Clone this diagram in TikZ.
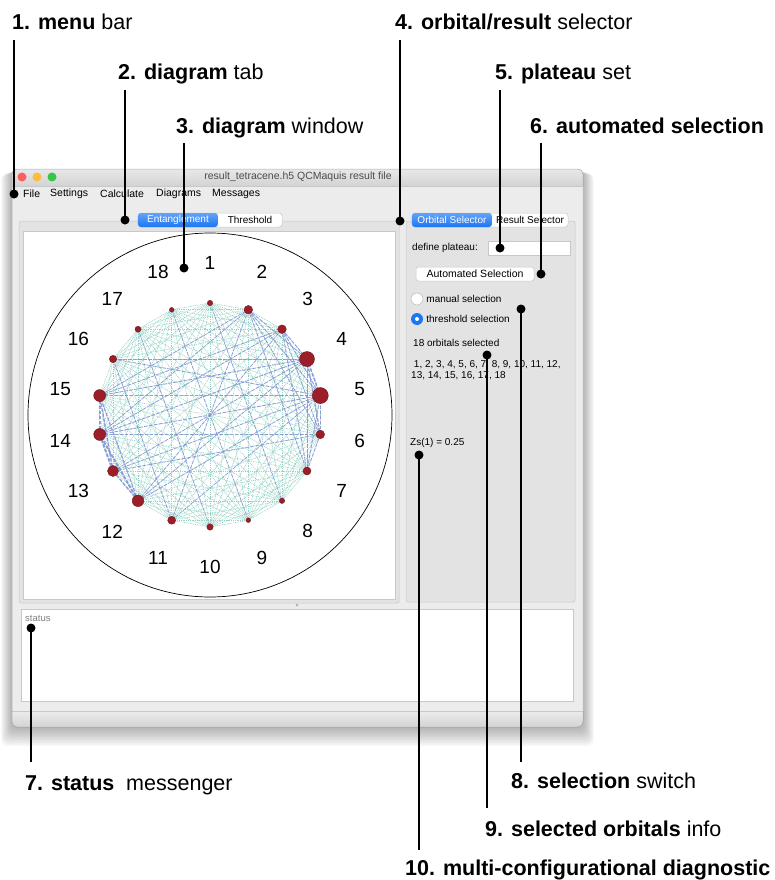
\documentclass[tikz,border=0pt]{standalone}
\usepackage{fontspec}
\setmainfont{Liberation Sans}
\usetikzlibrary{positioning, backgrounds}

\definecolor{winbg}{RGB}{236,236,236}
\definecolor{panelbg}{RGB}{227,227,227}
\definecolor{frame}{RGB}{200,200,200}
\definecolor{titletop}{RGB}{232,232,232}
\definecolor{titlebot}{RGB}{211,211,211}
\definecolor{tabtop}{RGB}{98,163,250}
\definecolor{tabbot}{RGB}{30,118,240}
\definecolor{orbred}{RGB}{155,30,40}
\definecolor{entgreen}{RGB}{150,210,198}
\definecolor{entblue}{RGB}{132,144,216}
\definecolor{btnred}{RGB}{252,96,92}
\definecolor{btnyel}{RGB}{253,188,64}
\definecolor{btngrn}{RGB}{52,200,74}

\begin{document}
\begin{tikzpicture}[x=1pt, y=-1pt,
    lbl/.style={anchor=base west, inner sep=0, font=\fontsize{21.5}{24}\selectfont},
    pin/.style={circle, fill=black, inner sep=0, minimum size=9pt},
    callout/.style={line width=2.6pt},
    ui/.style={anchor=west, inner sep=0, font=\fontsize{10.5}{12}\selectfont},
    small/.style={ui, font=\fontsize{10}{12}\selectfont},
    tabon/.style={rectangle, rounded corners=3pt, top color=tabtop, bottom color=tabbot,
                  text=white, inner sep=0, minimum height=14pt, font=\fontsize{10}{12}\selectfont},
    taboff/.style={rectangle, rounded corners=3pt, fill=white, draw=frame, line width=0.5pt,
                   inner sep=0, minimum height=14pt, font=\fontsize{10}{12}\selectfont},
    btn/.style={rectangle, rounded corners=2.5pt, fill=white, draw=frame, line width=0.5pt,
                inner sep=0, minimum height=14pt, font=\fontsize{10.5}{12}\selectfont},
    light/.style={circle, inner sep=0, minimum size=9pt},
    orb/.style={circle, fill=orbred, draw=orbred!75!black, line width=0.4pt, inner sep=0},
    num/.style={inner sep=0, font=\fontsize{19}{20}\selectfont},
    ent/.style={entgreen, line width=0.6pt, dash pattern=on 1pt off 0.8pt},
    link/.style={entblue, opacity=0.85, dash pattern=on 3.5pt off 1.5pt},
  ]
  \useasboundingbox (0,0) rectangle (775,880);

  % window
  \begin{scope}[on background layer]
    \foreach \s in {1,...,12}
      \fill[black, opacity=0.028, rounded corners=6pt]
        ({12-\s*0.9},{170+\s*0.3}) rectangle ({583+\s*0.9},{727+\s*1.6});
    \fill[winbg, rounded corners=5pt] (12,169) rectangle (583,727);
    \fill[top color=titletop, bottom color=titlebot]
      (12,186) {[rounded corners=5pt] -- (12,169) -- (583,169)} -- (583,186) -- cycle;
    \draw[frame, line width=0.5pt] (12,186) -- (583,186);
    \fill[top color=winbg, bottom color=titlebot]
      (12,711) -- (583,711) {[rounded corners=5pt] -- (583,727) -- (12,727)} -- cycle;
    \draw[frame, line width=0.5pt] (12,711) -- (583,711);
    \draw[gray!60, line width=0.5pt, rounded corners=5pt] (12,169) rectangle (583,727);
    % left group and diagram area
    \draw[frame, fill=panelbg, line width=0.5pt, rounded corners=2pt] (19,221) rectangle (399,603);
    \draw[frame, fill=white, line width=0.5pt] (23,231) rectangle (395,599);
    % right panel
    \draw[frame, fill=panelbg, line width=0.5pt, rounded corners=2pt] (406,221) rectangle (575,602);
    % status box
    \draw[frame, fill=white, line width=0.5pt] (21,609) rectangle (573,701);
  \end{scope}

  \node[light, fill=btnred] (win-close) at (22,177) {};
  \node[light, fill=btnyel] (win-min)   at (37,177) {};
  \node[light, fill=btngrn] (win-max)   at (52,177) {};
  \node[inner sep=0, text=black!70, font=\fontsize{10.5}{12}\selectfont] (win-title) at (298,177)
    {result\_tetracene.h5 QCMaquis result file};

  \node[ui] (mnu-file) at (23,194)  {File};
  \node[ui] (mnu-set)  at (50,194)  {Settings};
  \node[ui] (mnu-calc) at (100,194) {Calculate};
  \node[ui] (mnu-diag) at (156,194) {Diagrams};
  \node[ui] (mnu-msg)  at (212,194) {Messages};

  % diagram tabs
  \node[taboff, minimum width=144pt] (tabs-l) at (210,220) {};
  \node[tabon, minimum width=80pt, anchor=west] (tab-ent) at (tabs-l.west) {Entanglement};
  \node[inner sep=0, font=\fontsize{10}{12}\selectfont] (tab-thr) at (250,220) {Threshold};

  % entanglement diagram
  \node[circle, draw, line width=0.7pt, minimum size=364pt, inner sep=0] (ring) at (210,415) {};
  \foreach \k/\r in {1/2.7, 2/4.3, 3/4.3, 4/7.5, 5/8, 6/4.3, 7/4, 8/2.7, 9/2.3,
                     10/3.2, 11/4, 12/5.8, 13/5.5, 14/6, 15/6, 16/3.7, 17/3, 18/2.3}{
    \pgfmathsetmacro{\ang}{90-20*(\k-1)}
    \node[orb, minimum size=2*\r] (o\k) at ({210+112*cos(\ang)},{415-112*sin(\ang)}) {};
    \node[num] (n\k) at ({210+152*cos(\ang)},{415-152*sin(\ang)}) {\k};
  }
  \begin{scope}[on background layer]
    \foreach \i in {1,...,17}{
      \pgfmathtruncatemacro{\nxt}{\i+1}
      \foreach \j in {\nxt,...,18}
        \draw[ent] (o\i.center) -- (o\j.center);
    }
    \foreach \a/\b/\w in {4/5/1.6, 4/6/1.2, 5/6/1.4, 12/13/1.4, 13/14/2, 14/15/1.8,
                          12/14/2, 13/15/1.4, 12/15/1.2, 3/4/0.9, 3/5/0.9, 2/4/0.8, 2/5/0.8,
                          4/7/0.9, 5/7/0.9, 6/7/0.8, 2/7/0.8, 3/7/0.8, 3/6/0.7, 2/6/0.7,
                          16/4/0.8, 16/5/0.7, 15/5/0.8, 15/4/0.8, 15/3/0.7, 15/2/0.7,
                          14/6/0.8, 14/5/0.8, 14/4/0.8, 14/3/0.7, 14/2/0.7, 13/4/0.7,
                          13/5/0.7, 13/6/0.7, 12/4/0.7, 12/5/0.7, 12/3/0.7, 11/2/0.7,
                          16/11/0.8, 17/10/0.7, 18/9/0.7, 1/8/0.7, 11/5/0.6}
      \draw[link, line width=\w] (o\a.center) -- (o\b.center);
  \end{scope}

  % orbital / result selector
  \node[taboff, minimum width=156pt] (tabs-r) at (490,220) {};
  \node[tabon, minimum width=80pt, anchor=west] (tab-orb) at (tabs-r.west) {Orbital Selector};
  \node[inner sep=0, font=\fontsize{10}{12}\selectfont] (tab-res) at (530,220) {Result Selector};

  \node[small] (lbl-plat) at (412,248) {define plateau:};
  \node[btn, rounded corners=0pt, minimum width=82pt] (fld-plat) at (529,248) {};
  \node[btn, minimum width=118pt] (btn-auto) at (475,274) {Automated Selection};
  \node[circle, draw=gray!55, fill=white, line width=0.5pt, minimum size=12pt, inner sep=0] (rad-man) at (417,299) {};
  \node[circle, fill=tabbot, minimum size=12pt, inner sep=0] (rad-thr) at (417,319) {};
  \node[circle, fill=white, minimum size=4pt, inner sep=0] (rad-dot) at (rad-thr) {};
  \node[small] (lbl-man) [right=3pt of rad-man] {manual selection};
  \node[small] (lbl-thr) [right=3pt of rad-thr] {threshold selection};
  \node[small] (lbl-count) at (413,343) {18 orbitals selected};
  \node[small, align=left, font=\fontsize{10}{11.5}\selectfont] (lbl-list) at (411,370)
    {\ 1, 2, 3, 4, 5, 6, 7, 8, 9, 10, 11, 12,\\13, 14, 15, 16, 17, 18};
  \node[small] (lbl-zs) at (410,443) {Zs(1) = 0.25};

  % status
  \node[circle, fill=gray!60, minimum size=3pt, inner sep=0] (split) at (297,605) {};
  \node[ui, text=gray, font=\fontsize{9.5}{11}\selectfont] (lbl-status) at (25,618) {status};

  % callouts
  \node[pin] (d1)  at (14,194)  {};
  \node[pin] (d2)  at (125,220) {};
  \node[pin] (d3)  at (184,268) {};
  \node[pin] (d4)  at (400,221) {};
  \node[pin] (d5)  at (500,248) {};
  \node[pin] (d6)  at (541,274) {};
  \node[pin] (d7)  at (31,628)  {};
  \node[pin] (d8)  at (521,309) {};
  \node[pin] (d9)  at (487,355) {};
  \node[pin] (d10) at (419,455) {};
  \coordinate (e1)  at (14,40);
  \coordinate (e2)  at (125,90);
  \coordinate (e3)  at (184,143);
  \coordinate (e4)  at (400,40);
  \coordinate (e5)  at (500,90);
  \coordinate (e6)  at (541,143);
  \coordinate (e7)  at (31,762);
  \coordinate (e8)  at (521,762);
  \coordinate (e9)  at (487,808);
  \coordinate (e10) at (419,850);
  \foreach \k in {1,...,10}
    \draw[callout] (d\k.center) -- (e\k);

  \node[lbl] (t1)  at (12,30)   {\textbf{1. menu} bar};
  \node[lbl] (t2)  at (118,80)  {\textbf{2. diagram} tab};
  \node[lbl] (t3)  at (176,133) {\textbf{3. diagram} window};
  \node[lbl] (t4)  at (395,30)  {\textbf{4. orbital/result} selector};
  \node[lbl] (t5)  at (495,80)  {\textbf{5. plateau} set};
  \node[lbl] (t6)  at (530,133) {\textbf{6. automated selection}};
  \node[lbl] (t7)  at (25,790)  {\textbf{7. status}\hspace{0.55em}messenger};
  \node[lbl] (t8)  at (511,788) {\textbf{8. selection} switch};
  \node[lbl] (t9)  at (485,836) {\textbf{9. selected orbitals} info};
  \node[lbl] (t10) at (405,875) {\textbf{10. multi-configurational diagnostic}};
\end{tikzpicture}
\end{document}
